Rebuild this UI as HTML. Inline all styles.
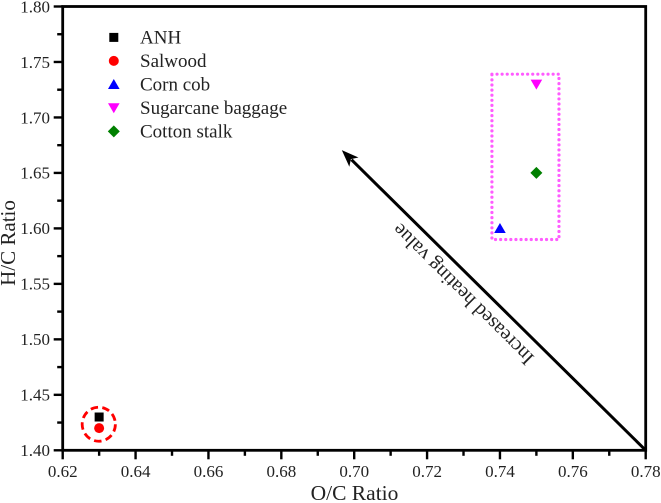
<!DOCTYPE html>
<html lang="en">
<head>
<meta charset="utf-8">
<title>H/C vs O/C Ratio</title>
<style>
html,body{margin:0;padding:0;background:#fff;width:661px;height:503px;overflow:hidden}
svg{display:block;filter:blur(0.35px)}
text{font-family:"Liberation Serif",serif;fill:#222}
</style>
</head>
<body>
<svg id="chart" xmlns="http://www.w3.org/2000/svg" width="661" height="503" viewBox="0 0 661 503">
  <rect x="0" y="0" width="661" height="503" fill="#fff"/>
  <g id="axes"></g>
  <g id="annotations"></g>
  <g id="points"></g>
  <g id="legend"></g>
  <text x="354.5" y="500" font-size="21.5" text-anchor="middle">O/C Ratio</text>
  <text transform="translate(15 243) rotate(-90)" font-size="21" text-anchor="middle">H/C Ratio</text>
</svg>
<script>
const seriesNames = ['ANH', 'Salwood', 'Corn cob', 'Sugarcane baggage', 'Cotton stalk'];
const seriesShapes = ['square', 'circle', 'up', 'down', 'diamond'];
const seriesColors = ['#000000', '#ff0000', '#0000ff', '#ff00ff', '#008000'];
const ocValues = [0.63, 0.63, 0.74, 0.75, 0.75];
const hcValues = [1.43, 1.42, 1.60, 1.73, 1.65];
const xTickLabels = ['0.62', '0.64', '0.66', '0.68', '0.70', '0.72', '0.74', '0.76', '0.78'];
const yTickLabels = ['1.40', '1.45', '1.50', '1.55', '1.60', '1.65', '1.70', '1.75', '1.80'];
const arrowStart = [0.78, 1.40];
const arrowEnd = [0.6966, 1.6705];
const boxCorners = [0.7378, 1.59, 0.7562, 1.739];
const circleCenter = [0.6299, 1.4235];

const NS = 'http://www.w3.org/2000/svg';
const xMin = 0.62, xMax = 0.78, yMin = 1.40, yMax = 1.80;
const left = 62.7, right = 645.7, bottom = 450.3, top2 = 6.5;
function xScale(v) { return left + (v - xMin) / (xMax - xMin) * (right - left); }
function yScale(v) { return bottom - (v - yMin) / (yMax - yMin) * (bottom - top2); }
function make(tag, attrs, parent) {
  const el = document.createElementNS(NS, tag);
  for (const k in attrs) el.setAttribute(k, attrs[k]);
  parent.appendChild(el);
  return el;
}
function drawMarker(shape, color, cx, cy, parent) {
  if (shape === 'square') {
    return make('rect', { x: cx - 4.5, y: cy - 4.5, width: 9, height: 9, fill: color }, parent);
  }
  if (shape === 'circle') {
    return make('circle', { cx: cx, cy: cy, r: 5, fill: color }, parent);
  }
  let pts;
  if (shape === 'up') pts = [[cx - 5.8, cy + 4.6], [cx + 5.8, cy + 4.6], [cx, cy - 5.4]];
  else if (shape === 'down') pts = [[cx - 5.8, cy - 4.6], [cx + 5.8, cy - 4.6], [cx, cy + 5.4]];
  else pts = [[cx, cy - 6], [cx + 6, cy], [cx, cy + 6], [cx - 6, cy]];
  return make('polygon', { points: pts.map(p => p.join(',')).join(' '), fill: color }, parent);
}

const axes = document.getElementById('axes');
const frame = make('rect', { x: left, y: top2, width: right - left, height: bottom - top2, fill: 'none', stroke: '#000', 'stroke-width': 2.8 }, axes);



xTickLabels.forEach(function (label, i) {
  const v = parseFloat(label);
  const x = xScale(v);
  const tick = make('line', { x1: x, x2: x, y1: bottom, y2: bottom + 9, stroke: '#000', 'stroke-width': 2.4 }, axes);
  
  
  const text = make('text', { x: x, y: 477, 'font-size': 17, 'text-anchor': 'middle' }, axes);
  text.textContent = label;
  
  
  if (i < xTickLabels.length - 1) {
    const mx = xScale((v + parseFloat(xTickLabels[i + 1])) / 2);
    const minor = make('line', { x1: mx, x2: mx, y1: bottom, y2: bottom + 5.5, stroke: '#000', 'stroke-width': 2.4 }, axes);
    
    
  }
});

yTickLabels.forEach(function (label, i) {
  const v = parseFloat(label);
  const y = yScale(v);
  const tick = make('line', { x1: left, x2: left - 9, y1: y, y2: y, stroke: '#000', 'stroke-width': 2.4 }, axes);
  
  
  const text = make('text', { x: 50, y: y + 5.8, 'font-size': 17, 'text-anchor': 'end' }, axes);
  text.textContent = label;
  
  
  if (i < yTickLabels.length - 1) {
    const my = yScale((v + parseFloat(yTickLabels[i + 1])) / 2);
    const minor = make('line', { x1: left, x2: left - 5.5, y1: my, y2: my, stroke: '#000', 'stroke-width': 2.4 }, axes);
    
    
  }
});

const notes = document.getElementById('annotations');
const box = make('rect', {
  x: xScale(boxCorners[0]), y: yScale(boxCorners[3]),
  width: xScale(boxCorners[2]) - xScale(boxCorners[0]),
  height: yScale(boxCorners[1]) - yScale(boxCorners[3]),
  fill: 'none', stroke: '#ff5cff', 'stroke-width': 3.2,
  'stroke-linecap': 'round', 'stroke-dasharray': '0 5.1'
}, notes);



const ring = make('ellipse', {
  cx: xScale(circleCenter[0]), cy: yScale(circleCenter[1]), rx: 16.6, ry: 17,
  fill: 'none', stroke: '#ff0000', 'stroke-width': 2.8, 'stroke-dasharray': '7.5 4.3'
}, notes);



const ax1 = xScale(arrowStart[0]), ay1 = yScale(arrowStart[1]);
const ax2 = xScale(arrowEnd[0]), ay2 = yScale(arrowEnd[1]);
const ang = Math.atan2(ay2 - ay1, ax2 - ax1);
const ux = Math.cos(ang), uy = Math.sin(ang);
const headLen = 17, headHalf = 6.5;
const shaft = make('line', { x1: ax1, y1: ay1, x2: ax2 - ux * headLen * 0.8, y2: ay2 - uy * headLen * 0.8, stroke: '#000', 'stroke-width': 3 }, notes);


const bx = ax2 - ux * headLen, by = ay2 - uy * headLen;
const head = make('polygon', {
  points: [[ax2, ay2], [bx - uy * headHalf, by + ux * headHalf], [ax2 - ux * headLen * 0.75, ay2 - uy * headLen * 0.75], [bx + uy * headHalf, by - ux * headHalf]].map(p => p.join(',')).join(' '),
  fill: '#000'
}, notes);


const arrowLabel = make('text', { transform: 'translate(535 357) rotate(225)', 'font-size': 20.2 }, notes);
arrowLabel.textContent = 'Increased heating value';



const pointsLayer = document.getElementById('points');
seriesNames.forEach(function (name, i) {
  const mark = drawMarker(seriesShapes[i], seriesColors[i], xScale(ocValues[i]), yScale(hcValues[i]), pointsLayer);
  
  
});

const legend = document.getElementById('legend');
seriesNames.forEach(function (name, i) {
  const y = 37.4 + i * 23.5;
  const key = drawMarker(seriesShapes[i], seriesColors[i], 113.8, y, legend);
  
  
  const label = make('text', { x: 140, y: y + 6, 'font-size': 19 }, legend);
  label.textContent = name;
  
  
});
</script>
</body>
</html>
